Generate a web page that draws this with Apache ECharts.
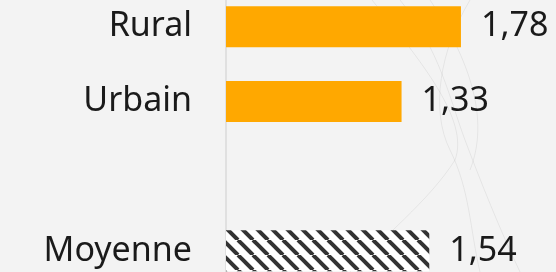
<!DOCTYPE html>
<html>
<head>
<meta charset="utf-8">
<style>
  html, body { margin: 0; padding: 0; background: #f3f3f3; }
  #chart { width: 556px; height: 272px; }
</style>
<script src="https://cdn.jsdelivr.net/npm/echarts@6/dist/echarts.min.js"></script>
</head>
<body>
<div id="chart"></div>
<script>
// categories (empty slot between Urbain and Moyenne)
const categories = ["Rural", "Urbain", "", "Moyenne"];
const groupValues = [1.78, 1.33, "-", "-"];
const averageValues = ["-", "-", "-", 1.54];

// hatched tile for the average bar
function makeHatch() {
  const s = 15;
  const off = 13; // shift stripes to line up with the reference
  const c = document.createElement("canvas");
  c.width = s;
  c.height = s;
  const ctx = c.getContext("2d");
  ctx.fillStyle = "#ffffff";
  ctx.fillRect(0, 0, s, s);
  ctx.strokeStyle = "#333333";
  ctx.lineWidth = 4;
  for (let k = -2 * s; k <= s; k += s) {
    ctx.beginPath();
    ctx.moveTo(k + off, 0);
    ctx.lineTo(k + off + s, s);
    ctx.stroke();
  }
  return c;
}

const fmt = p => p.value.toFixed(2).replace(".", ",");

const labelStyle = {
  show: true,
  position: "right",
  distance: 20,
  fontFamily: "Noto Sans",
  fontSize: 34,
  color: "#1a1a1a",
  formatter: fmt
};

// faint background curves (decoration only)
const curveStyle = { stroke: "rgba(0,0,0,0.06)", lineWidth: 1, fill: null };
const curves = [
  [372, 0, 420, 60, 470, 120, 455, 160],
  [455, 160, 430, 200, 380, 240, 350, 272],
  [400, 0, 440, 50, 450, 100, 465, 140],
  [465, 140, 480, 180, 500, 230, 520, 272],
  [470, 0, 440, 50, 430, 110, 450, 150],
  [450, 150, 470, 190, 470, 230, 480, 272],
  [430, 0, 470, 60, 490, 120, 470, 170]
].map(p => ({
  type: "bezierCurve",
  silent: true,
  z: -10,
  shape: { x1: p[0], y1: p[1], cpx1: p[2], cpy1: p[3], cpx2: p[4], cpy2: p[5], x2: p[6], y2: p[7] },
  style: curveStyle
}));

const chart = echarts.init(document.getElementById("chart"));
chart.setOption({
  animation: false,
  backgroundColor: "#f3f3f3",
  graphic: curves,
  grid: {
    left: 226,
    width: 330,
    top: -10.6,
    height: 298.8,
    containLabel: false,
    outerBoundsMode: "none"
  },
  xAxis: {
    type: "value",
    min: 0,
    max: 2.5,
    show: false,
    splitLine: { show: false }
  },
  yAxis: {
    type: "category",
    inverse: true,
    data: categories,
    axisLine: { show: true, lineStyle: { color: "#dadada", width: 1.5 } },
    axisTick: { show: false },
    axisLabel: {
      margin: 34,
      fontFamily: "Noto Sans",
      fontSize: 34,
      color: "#1a1a1a"
    }
  },
  series: [
    {
      type: "bar",
      data: groupValues,
      barWidth: 41,
      barGap: "-100%",
      itemStyle: { color: "#ffa800" },
      label: labelStyle
    },
    {
      type: "bar",
      data: averageValues,
      barWidth: 41,
      barGap: "-100%",
      itemStyle: { color: { image: makeHatch(), repeat: "repeat" } },
      label: labelStyle
    }
  ]
});
</script>
</body>
</html>
